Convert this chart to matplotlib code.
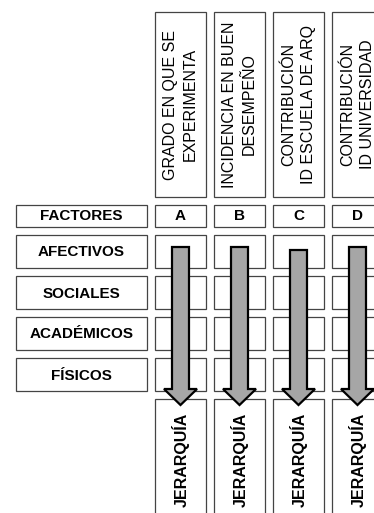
from matplotlib import pyplot as plt
from matplotlib import patches

# diagram content
columns = ["A", "B", "C", "D"]
headers = ["GRADO EN QUE SE\nEXPERIMENTA",
           "INCIDENCIA EN BUEN\nDESEMPEÑO",
           "CONTRIBUCIÓN\nID ESCUELA DE ARQ",
           "CONTRIBUCIÓN\nID UNIVERSIDAD"]
factors = ["AFECTIVOS", "SOCIALES", "ACADÉMICOS", "FÍSICOS"]
row_title = "FACTORES"
bottom_label = "JERARQUÍA"

plt.rcParams['font.family'] = ['Liberation Sans', 'DejaVu Sans']

W, H = 374, 513
fig = plt.figure(figsize=(W / 100, H / 100), dpi=100)
ax = fig.add_axes([0, 0, 1, 1])
ax.set_xlim(0, W)
ax.set_ylim(H, 0)
ax.axis("off")

edge = "#444444"
col_x0, col_w, col_step = 155, 51, 59
row_y0, row_h, row_step = 235, 33, 41

def box(x, y, w, h):
    ax.add_patch(patches.Rectangle((x, y), w, h, facecolor="white",
                                   edgecolor=edge, linewidth=0.9, zorder=1))

# left column: FACTORES and factor names
box(16, 205, 131, 22)
ax.text(81.5, 216.5, row_title, ha="center", va="center",
        fontsize=11, fontweight="bold", zorder=3)
for i, f in enumerate(factors):
    y = row_y0 + i * row_step
    box(16, y, 131, row_h)
    ax.text(81.5, y + row_h / 2 + 1, f, ha="center", va="center",
            fontsize=11, fontweight="bold", zorder=3)

for j, (c, hdr) in enumerate(zip(columns, headers)):
    x = col_x0 + j * col_step
    cx = x + col_w / 2
    # header box with rotated text
    box(x, 12, col_w, 185)
    ax.text(cx, 104.5, hdr, rotation=90, ha="center", va="center",
            multialignment="center", fontsize=11.5, linespacing=1.35, zorder=3)
    # letter box
    box(x, 205, col_w, 22)
    ax.text(cx, 216.5, c, ha="center", va="center",
            fontsize=11, fontweight="bold", zorder=3)
    # empty grid cells
    for i in range(len(factors)):
        box(x, row_y0 + i * row_step, col_w, row_h)
    # bottom box
    box(x, 399, col_w, 130)
    ax.text(cx, 413, bottom_label, rotation=90, ha="center", va="top",
            fontsize=11.5, fontweight="bold", zorder=3)
    # arrow
    top = 247 if j != 2 else 250
    ax.add_patch(patches.FancyArrow(cx, top, 0, 405 - top, width=17,
                                    head_width=33, head_length=16,
                                    length_includes_head=True,
                                    facecolor="#a6a6a6", edgecolor="black",
                                    linewidth=1.6, zorder=4))

fig.savefig("out.png", dpi=100, facecolor="white")
